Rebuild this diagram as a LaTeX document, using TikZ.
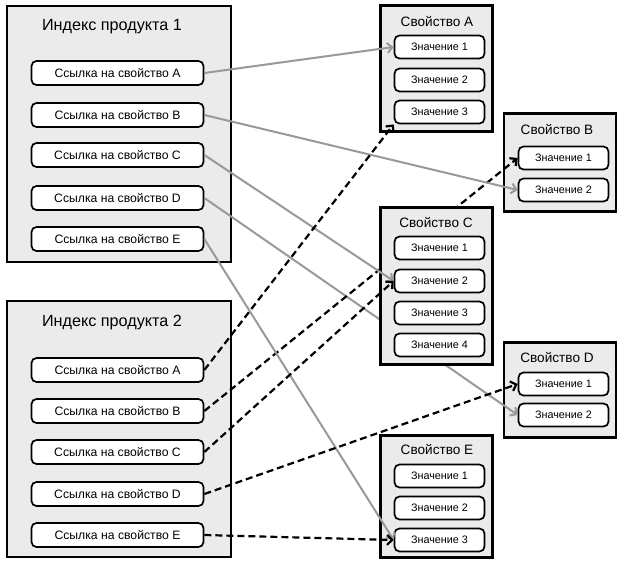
\documentclass[tikz,border=0pt]{standalone}
\usepackage{fontspec}
\setmainfont{Liberation Sans}
\usetikzlibrary{arrows.meta}
\begin{document}
\begin{tikzpicture}[x=1pt,y=-1pt,
panel/.style={draw, line width=2.8pt, fill=black!8, inner sep=0pt},
head/.style={font=\fontsize{16.2}{18}\selectfont},
phead/.style={font=\fontsize{13.6}{15}\selectfont},
ref/.style={draw, line width=1.7pt, rounded corners=5pt, fill=white, inner sep=0pt, minimum width=172, minimum height=24, font=\fontsize{12.2}{14}\selectfont},
val/.style={draw, line width=1.7pt, rounded corners=5pt, fill=white, inner sep=0pt, minimum width=90, minimum height=23, font=\fontsize{10.8}{12}\selectfont},
link/.style={draw=black!40, line width=2pt, -{Straight Barb[length=5pt,width=10pt]}},
dlink/.style={draw=black, line width=2.2pt, dash pattern=on 7pt off 4pt, -{Straight Barb[length=5pt,width=10pt]}}]
\useasboundingbox (0,0) rectangle (620,568);
% product indexes
\node[panel, minimum width=224, minimum height=256] (idx1) at (119,134){};
\node[head] (idx1t) at (112,27){Индекс продукта 1};
\node[ref] (r1a) at (117.5,73){Ссылка на свойство A};
\node[ref] (r1b) at (117.5,115){Ссылка на свойство B};
\node[ref] (r1c) at (117.5,155){Ссылка на свойство C};
\node[ref] (r1d) at (117.5,198){Ссылка на свойство D};
\node[ref] (r1e) at (117.5,239){Ссылка на свойство E};
\node[panel, minimum width=224, minimum height=256] (idx2) at (119,429){};
\node[head] (idx2t) at (112,323){Индекс продукта 2};
\node[ref] (r2a) at (117.5,370){Ссылка на свойство A};
\node[ref] (r2b) at (117.5,411){Ссылка на свойство B};
\node[ref] (r2c) at (117.5,452){Ссылка на свойство C};
\node[ref] (r2d) at (117.5,494){Ссылка на свойство D};
\node[ref] (r2e) at (117.5,535){Ссылка на свойство E};
% properties
\node[panel, minimum width=112, minimum height=126] (pa) at (436.5,68.5){};
\node[phead] (pat) at (437,22){Свойство A};
\node[val] (va1) at (439.5,47){Значение 1};
\node[val] (va2) at (439.5,80){Значение 2};
\node[val] (va3) at (439.5,112){Значение 3};
\node[panel, minimum width=112, minimum height=98] (pb) at (560,162.5){};
\node[phead] (pbt) at (557,130){Свойство B};
\node[val] (vb1) at (563.5,158){Значение 1};
\node[val] (vb2) at (563.5,190){Значение 2};
\node[panel, minimum width=112, minimum height=95] (pd) at (560,390){};
\node[phead] (pdt) at (557,358){Свойство D};
\node[val] (vd1) at (563.5,384){Значение 1};
\node[val] (vd2) at (563.5,415){Значение 2};
\node[panel, minimum width=112, minimum height=122] (pe) at (436.5,496.5){};
\node[phead] (pet) at (437,450){Свойство E};
\node[val] (ve1) at (439.5,476){Значение 1};
\node[val] (ve2) at (439.5,508){Значение 2};
\node[val] (ve3) at (439.5,540){Значение 3};
% these two run under box C, so they come before it
\draw[link] (r1d.east) -- (vd2.west);
\draw[dlink] (r2b.east) -- (vb1.west);
\node[panel, minimum width=112, minimum height=157] (pc) at (436.5,286){};
\node[phead] (pct) at (436,223){Свойство C};
\node[val] (vc1) at (439.5,248){Значение 1};
\node[val] (vc2) at (439.5,281){Значение 2};
\node[val] (vc3) at (439.5,313){Значение 3};
\node[val] (vc4) at (439.5,345){Значение 4};
% links of product 1
\draw[link] (r1a.east) -- (va1.west);
\draw[link] (r1b.east) -- (vb2.west);
\draw[link] (r1c.east) -- (vc2.west);
\draw[link] (r1e.east) -- (ve3.west);
% links of product 2
\draw[dlink] (r2a.east) -- (va3.south west);
\draw[dlink] (r2c.east) -- (vc2.west);
\draw[dlink] (r2d.east) -- (vd1.west);
\draw[dlink] (r2e.east) -- (ve3.west);
\end{tikzpicture}
\end{document}
